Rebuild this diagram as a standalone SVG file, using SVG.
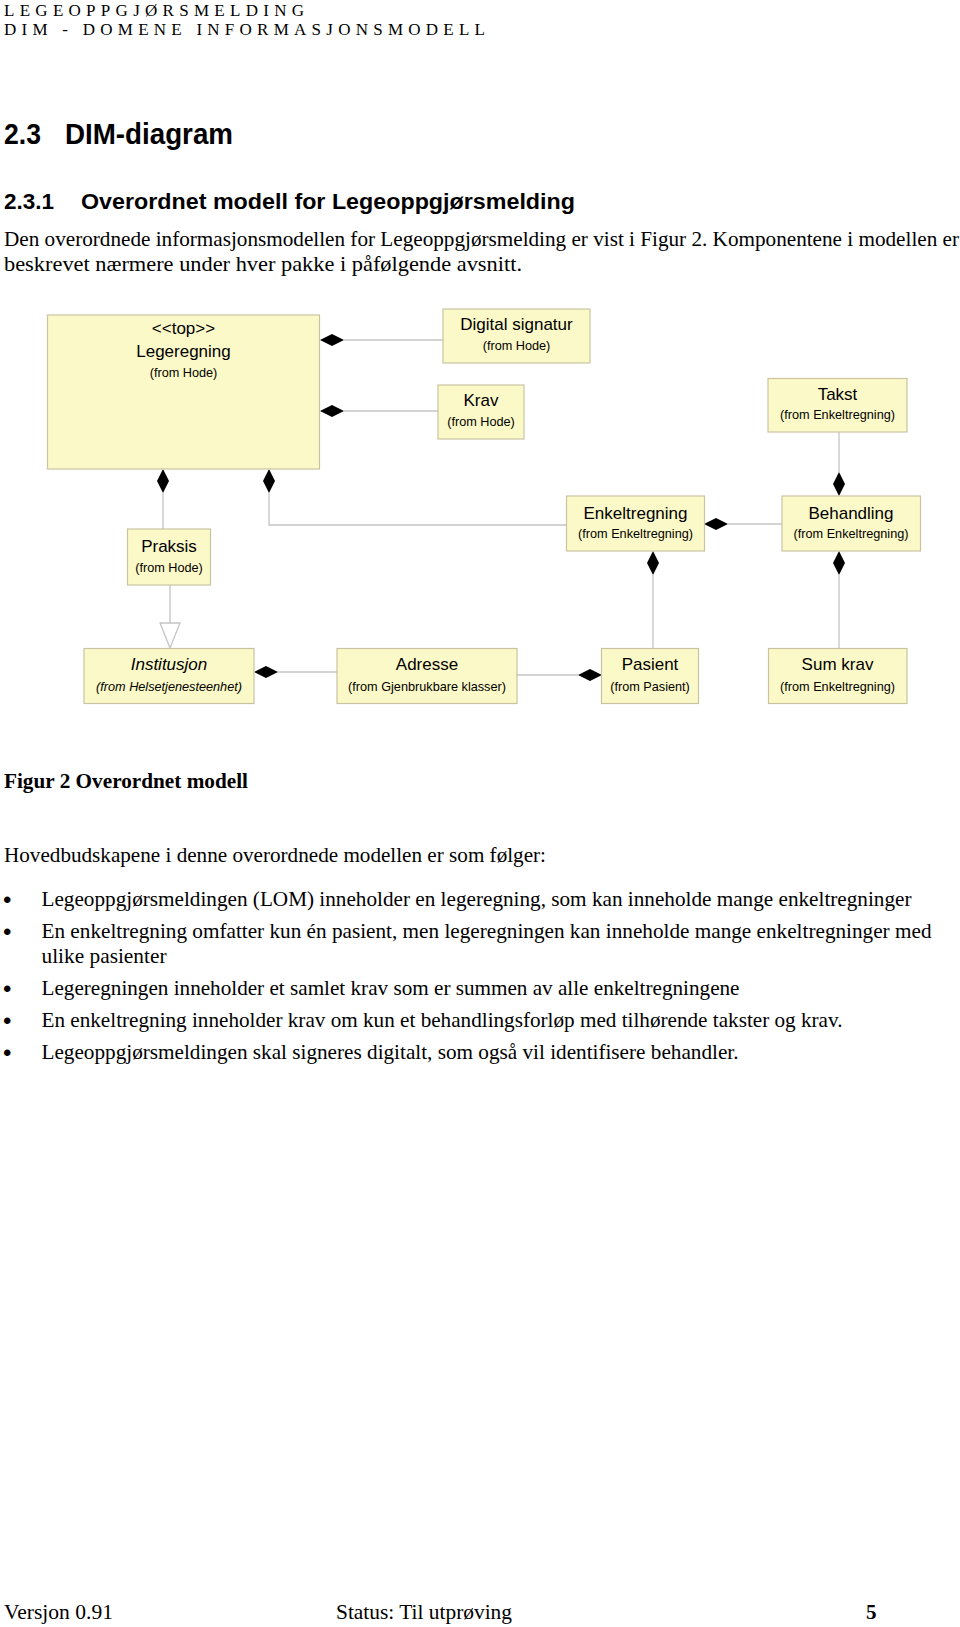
<svg xmlns="http://www.w3.org/2000/svg" width="960" height="1627" viewBox="0 0 960 1627">
<style>
.bg{fill:#ffffff}
.box{fill:#FCF9C8;stroke:#C9C3A2;stroke-width:1.2}
.t{font-family:"Liberation Sans",Arial,sans-serif;font-size:17px;text-anchor:middle;fill:#000}
.s{font-family:"Liberation Sans",Arial,sans-serif;font-size:12.7px;text-anchor:middle;fill:#000}
.i{font-style:italic}
.c{stroke:#C4C4C4;stroke-width:1.3;fill:none}
.d{fill:#000}
.serif{font-family:"Liberation Serif","Times New Roman",serif;fill:#000}
.body{font-family:"Liberation Serif","Times New Roman",serif;font-size:21px;fill:#000}
.bul{font-family:"Liberation Sans",Arial,sans-serif;font-size:24px;fill:#000}
.h{font-family:"Liberation Sans",Arial,sans-serif;font-weight:bold;fill:#000}
</style>
<rect class="bg" x="0" y="0" width="960" height="1627"/>

<g id="page-header">
<text class="serif" x="4" y="16" font-size="17" textLength="300" lengthAdjust="spacing">LEGEOPPGJØRSMELDING</text>
<text class="serif" x="4" y="35" font-size="17" textLength="481" lengthAdjust="spacing">DIM - DOMENE INFORMASJONSMODELL</text>
</g>

<g id="headings">
<text class="h" x="4" y="144" font-size="30" textLength="37" lengthAdjust="spacingAndGlyphs">2.3</text>
<text class="h" x="65" y="144" font-size="30" textLength="168" lengthAdjust="spacingAndGlyphs">DIM-diagram</text>
<text class="h" x="4" y="209" font-size="22" textLength="50" lengthAdjust="spacingAndGlyphs">2.3.1</text>
<text class="h" x="81" y="209" font-size="22" textLength="494" lengthAdjust="spacingAndGlyphs">Overordnet modell for Legeoppgjørsmelding</text>
</g>

<g id="intro">
<text class="body" x="4" y="246" textLength="955" lengthAdjust="spacingAndGlyphs">Den overordnede informasjonsmodellen for Legeoppgjørsmelding er vist i Figur 2. Komponentene i modellen er</text>
<text class="body" x="4" y="271" textLength="518" lengthAdjust="spacingAndGlyphs">beskrevet nærmere under hver pakke i påfølgende avsnitt.</text>
</g>

<g id="connectors">
<line class="c" x1="344" y1="340" x2="443" y2="340"/>
<line class="c" x1="344" y1="411" x2="438" y2="411"/>
<line class="c" x1="163" y1="493" x2="163" y2="529"/>
<polyline class="c" points="269,493 269,525 566,525"/>
<line class="c" x1="728" y1="524" x2="782" y2="524"/>
<line class="c" x1="839" y1="432" x2="839" y2="472"/>
<line class="c" x1="839" y1="575" x2="839" y2="648"/>
<line class="c" x1="653" y1="575" x2="653" y2="648"/>
<line class="c" x1="170" y1="585" x2="170" y2="623"/>
<polygon class="c" points="160,623 180,623 170,648" fill="#fff"/>
<line class="c" x1="278" y1="672" x2="337" y2="672"/>
<line class="c" x1="517" y1="675" x2="578" y2="675"/>
<path class="d" d="M320,340 L332,334 L344,340 L332,346 Z"/>
<path class="d" d="M320,411 L332,405 L344,411 L332,417 Z"/>
<path class="d" d="M163,469 L169,481 L163,493 L157,481 Z"/>
<path class="d" d="M269,469 L275,481 L269,493 L263,481 Z"/>
<path class="d" d="M704,524 L716,518 L728,524 L716,530 Z"/>
<path class="d" d="M839,472 L845,484 L839,496 L833,484 Z"/>
<path class="d" d="M839,551 L845,563 L839,575 L833,563 Z"/>
<path class="d" d="M653,551 L659,563 L653,575 L647,563 Z"/>
<path class="d" d="M254,672 L266,666 L278,672 L266,678 Z"/>
<path class="d" d="M578,675 L590,669 L602,675 L590,681 Z"/>
</g>

<g id="legeregning">
<rect class="box" x="47.5" y="315" width="272" height="154"/>
<text class="t" x="183.5" y="334">&lt;&lt;top&gt;&gt;</text>
<text class="t" x="183.5" y="357">Legeregning</text>
<text class="s" x="183.5" y="377">(from Hode)</text>
</g>
<g id="digital-signatur">
<rect class="box" x="443" y="309" width="147" height="54"/>
<text class="t" x="516.5" y="330">Digital signatur</text>
<text class="s" x="516.5" y="349.5">(from Hode)</text>
</g>
<g id="krav">
<rect class="box" x="438" y="385" width="86" height="54"/>
<text class="t" x="481" y="406">Krav</text>
<text class="s" x="481" y="425.5">(from Hode)</text>
</g>
<g id="takst">
<rect class="box" x="768" y="378.5" width="139" height="53.5"/>
<text class="t" x="837.5" y="400">Takst</text>
<text class="s" x="837.5" y="418.5">(from Enkeltregning)</text>
</g>
<g id="praksis">
<rect class="box" x="127.5" y="529" width="83" height="56"/>
<text class="t" x="169" y="552">Praksis</text>
<text class="s" x="169" y="572">(from Hode)</text>
</g>
<g id="enkeltregning">
<rect class="box" x="566.5" y="496" width="138" height="55"/>
<text class="t" x="635.5" y="518.5">Enkeltregning</text>
<text class="s" x="635.5" y="537.5">(from Enkeltregning)</text>
</g>
<g id="behandling">
<rect class="box" x="782" y="496" width="138.5" height="55"/>
<text class="t" x="851" y="518.5">Behandling</text>
<text class="s" x="851" y="537.5">(from Enkeltregning)</text>
</g>
<g id="institusjon">
<rect class="box" x="84" y="648.5" width="170" height="55"/>
<text class="t i" x="169" y="670">Institusjon</text>
<text class="s i" x="169" y="691">(from Helsetjenesteenhet)</text>
</g>
<g id="adresse">
<rect class="box" x="337" y="648.5" width="180" height="55"/>
<text class="t" x="427" y="670">Adresse</text>
<text class="s" x="427" y="691">(from Gjenbrukbare klasser)</text>
</g>
<g id="pasient">
<rect class="box" x="601.5" y="648.5" width="97" height="55"/>
<text class="t" x="650" y="670">Pasient</text>
<text class="s" x="650" y="691">(from Pasient)</text>
</g>
<g id="sum-krav">
<rect class="box" x="768.5" y="648.5" width="138.5" height="55"/>
<text class="t" x="837.5" y="670">Sum krav</text>
<text class="s" x="837.5" y="691">(from Enkeltregning)</text>
</g>

<g id="caption">
<text class="serif" x="4" y="788" font-size="21" font-weight="bold" textLength="244" lengthAdjust="spacingAndGlyphs">Figur 2 Overordnet modell</text>
</g>

<g id="bullets">
<text class="body" x="4" y="862" textLength="542" lengthAdjust="spacingAndGlyphs">Hovedbudskapene i denne overordnede modellen er som følger:</text>
<text class="bul" x="3" y="908">•</text>
<text class="body" x="41.5" y="906" textLength="870" lengthAdjust="spacingAndGlyphs">Legeoppgjørsmeldingen (LOM) inneholder en legeregning, som kan inneholde mange enkeltregninger</text>
<text class="bul" x="3" y="940">•</text>
<text class="body" x="41.5" y="938" textLength="890" lengthAdjust="spacingAndGlyphs">En enkeltregning omfatter kun én pasient, men legeregningen kan inneholde mange enkeltregninger med</text>
<text class="body" x="41.5" y="963" textLength="125" lengthAdjust="spacingAndGlyphs">ulike pasienter</text>
<text class="bul" x="3" y="997">•</text>
<text class="body" x="41.5" y="995" textLength="698" lengthAdjust="spacingAndGlyphs">Legeregningen inneholder et samlet krav som er summen av alle enkeltregningene</text>
<text class="bul" x="3" y="1029">•</text>
<text class="body" x="41.5" y="1027" textLength="801" lengthAdjust="spacingAndGlyphs">En enkeltregning inneholder krav om kun et behandlingsforløp med tilhørende takster og krav.</text>
<text class="bul" x="3" y="1061">•</text>
<text class="body" x="41.5" y="1059" textLength="697" lengthAdjust="spacingAndGlyphs">Legeoppgjørsmeldingen skal signeres digitalt, som også vil identifisere behandler.</text>
</g>

<g id="footer">
<text class="body" x="4" y="1619" textLength="109" lengthAdjust="spacingAndGlyphs">Versjon 0.91</text>
<text class="body" x="336" y="1619" textLength="176" lengthAdjust="spacingAndGlyphs">Status: Til utprøving</text>
<text class="body" x="866" y="1619" font-weight="bold">5</text>
</g>
</svg>
